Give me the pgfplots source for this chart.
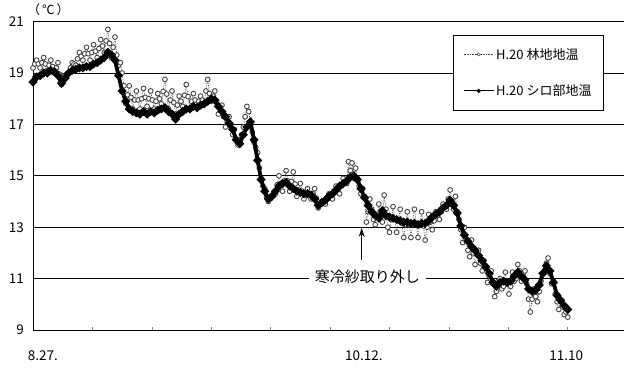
\documentclass[border=0pt]{standalone}
\usepackage{fontspec}
\setmainfont{Noto Sans CJK JP}
\usepackage{pgfplots}
\pgfplotsset{compat=1.18}
\usetikzlibrary{arrows.meta}
\definecolor{fgray}{RGB}{70,70,70}
\begin{document}
\begin{tikzpicture}
\begin{axis}[
  at={(33bp,39bp)}, anchor=south west,
  scale only axis, width=591bp, height=308.4bp,
  xmin=0, xmax=82.89, ymin=9, ymax=21, clip mode=individual,
  axis lines=left, axis line style={-, line width=0.9bp},
  xtick={0,8.3333,16.6667,25,33.3333,41.6667,50,58.3333,66.6667,75},
  xticklabels={}, xtick align=inside, major tick length=3bp,
  xtick style={line width=0.6bp},
  ytick={9,11,13,15,17,19,21}, ytick style={draw=none},
  ymajorgrids, grid style={black, line width=0.9bp},
  /pgf/number format/assume math mode=true,
  yticklabel style={font=\fontsize{13.5bp}{15bp}\selectfont, xshift=-4bp},
  legend style={at={(0.966,0.957)}, anchor=north east, draw=black, line width=0.7bp,
    fill=white, font=\fontsize{13bp}{15bp}\selectfont, row sep=20bp,
    inner xsep=10bp, inner ysep=11bp, legend cell align=left},
  legend image code/.code={\draw[mark repeat=2,mark phase=2,#1] plot coordinates {(0bp,0bp)(15bp,0bp)(30bp,0bp)};},
]
\addlegendimage{fgray, densely dotted, line width=0.6bp, mark=*, mark size=1.6bp, mark options={solid, fill=white, draw=fgray, line width=0.5bp}}
\addlegendentry{H.20 林地地温}
\addlegendimage{black, line width=0.9bp, mark=*, mark size=1.6bp}
\addlegendentry{H.20 シロ部地温}

\addplot[fgray, densely dotted, line width=0.7bp, mark=*, mark size=2.4bp,
  mark options={solid, fill=white, draw=fgray, line width=0.9bp}, forget plot] coordinates {
(0,19.2)(0.25,19.35)(0.5,19.5)(0.75,19.35)
(1,19.2)(1.25,19.4)(1.5,19.6)(1.75,19.35)
(2,19.1)(2.25,19.3)(2.5,19.5)(2.75,19.25)
(3,19.0)(3.25,19.2)(3.5,19.4)(3.75,18.95)
(4,18.55)(4.25,18.73)(4.5,18.9)(4.75,18.95)
(5,19.0)(5.25,19.2)(5.5,19.4)(5.75,19.35)
(6,19.3)(6.25,19.55)(6.5,19.8)(6.75,19.65)
(7,19.5)(7.25,19.75)(7.5,20.0)(7.75,19.75)
(8,19.5)(8.25,19.8)(8.5,20.1)(8.75,19.85)
(9,19.6)(9.25,19.95)(9.5,20.3)(9.75,20.05)
(10,19.8)(10.25,20.25)(10.5,20.7)(10.75,20.15)
(11,19.6)(11.25,20.0)(11.5,20.4)(11.75,19.7)
(12,19.3)(12.25,19.4)(12.5,19.0)(12.75,18.5)
(13,17.8)(13.25,18.15)(13.5,18.5)(13.75,18.05)
(14,17.6)(14.25,17.95)(14.5,18.3)(14.75,17.95)
(15,17.6)(15.25,18.0)(15.5,18.4)(15.75,18.05)
(16,17.7)(16.25,18.0)(16.5,18.3)(16.75,17.95)
(17,17.6)(17.25,17.9)(17.5,18.2)(17.75,18.0)
(18,17.8)(18.25,18.28)(18.5,18.75)(18.75,18.18)
(19,17.6)(19.25,17.95)(19.5,18.3)(19.75,17.85)
(20,17.4)(20.25,17.75)(20.5,18.1)(20.75,17.9)
(21,17.7)(21.25,18.13)(21.5,18.55)(21.75,18.08)
(22,17.6)(22.25,17.9)(22.5,18.2)(22.75,17.95)
(23,17.7)(23.25,17.9)(23.5,18.1)(23.75,17.95)
(24,17.8)(24.25,18.3)(24.5,18.75)(24.75,18.2)
(25,17.9)(25.25,18.1)(25.5,18.3)(25.75,17.9)
(26,17.4)(26.25,17.6)(26.5,17.75)(26.75,17.3)
(27,16.9)(27.25,17.2)(27.5,17.3)(27.75,16.9)
(28,16.6)(28.25,16.8)(28.5,16.4)(28.75,16.2)
(29,16.4)(29.25,16.6)(29.5,16.9)(29.75,17.3)
(30,17.7)(30.25,17.5)(30.5,17.1)(30.75,16.7)
(31,16.3)(31.25,16.1)(31.5,15.9)(31.75,15.3)
(32,14.9)(32.25,14.6)(32.5,14.5)(32.75,14.2)
(33,14.0)(33.25,14.1)(33.5,14.2)(33.75,14.25)
(34,14.3)(34.25,14.65)(34.5,15.0)(34.75,14.7)
(35,14.4)(35.25,14.8)(35.5,15.2)(35.75,14.8)
(36,14.4)(36.25,14.78)(36.5,15.15)(36.75,14.68)
(37,14.2)(37.25,14.45)(37.5,14.7)(37.75,14.4)
(38,14.1)(38.25,14.3)(38.5,14.5)(38.75,14.3)
(39,14.1)(39.25,14.3)(39.5,14.5)(39.75,14.13)
(40,13.75)(40.25,13.88)(40.5,14.0)(40.75,13.95)
(41,13.9)(41.25,14.1)(41.5,14.3)(41.75,14.2)
(42,14.1)(42.25,14.35)(42.5,14.6)(42.75,14.45)
(43,14.3)(43.25,14.6)(43.5,14.9)(43.75,14.75)
(44,14.7)(44.25,15.55)(44.5,15.2)(44.75,15.5)
(45,14.9)(45.25,15.3)(45.5,14.9)(45.75,14.6)
(46,14.3)(46.25,14.5)(46.5,14.2)(46.75,13.2)
(47,13.6)(47.25,14.1)(47.5,13.7)(47.75,13.3)
(48,13.1)(48.25,13.5)(48.5,13.9)(48.75,13.55)
(49,13.2)(49.25,14.25)(49.5,13.7)(49.75,13.0)
(50,12.8)(50.25,13.3)(50.5,13.8)(50.75,13.3)
(51,12.8)(51.25,13.25)(51.5,13.7)(51.75,13.15)
(52,12.6)(52.25,13.1)(52.5,13.6)(52.75,13.1)
(53,12.6)(53.25,13.15)(53.5,13.7)(53.75,13.15)
(54,12.6)(54.25,13.1)(54.5,13.6)(54.75,13.05)
(55,12.5)(55.25,13.0)(55.5,13.5)(55.75,13.2)
(56,12.9)(56.25,13.25)(56.5,13.6)(56.75,13.45)
(57,13.3)(57.25,13.6)(57.5,13.9)(57.75,13.8)
(58,13.7)(58.25,14.1)(58.5,14.45)(58.75,14.0)
(59,13.7)(59.25,14.2)(59.5,13.6)(59.75,13.3)
(60,12.9)(60.25,12.4)(60.5,13.0)(60.75,12.5)
(61,12.1)(61.25,11.85)(61.5,12.5)(61.75,12.0)
(62,11.55)(62.25,12.0)(62.5,12.1)(62.75,11.6)
(63,11.3)(63.25,11.7)(63.5,11.5)(63.75,10.85)
(64,11.1)(64.25,11.3)(64.5,10.8)(64.75,10.3)
(65,10.5)(65.25,10.9)(65.5,11.0)(65.75,10.6)
(66,10.7)(66.25,11.25)(66.5,10.8)(66.75,10.4)
(67,10.7)(67.25,11.25)(67.5,10.9)(67.75,11.0)
(68,11.55)(68.25,11.3)(68.5,10.9)(68.75,11.2)
(69,11.3)(69.25,10.8)(69.5,10.2)(69.75,9.7)
(70,10.2)(70.25,10.6)(70.5,10.3)(70.75,10.1)
(71,10.5)(71.25,10.9)(71.5,11.2)(71.75,11.3)
(72,11.6)(72.25,11.8)(72.5,11.2)(72.75,10.8)
(73,10.9)(73.25,10.4)(73.5,10.1)(73.75,9.8)
(74,10.1)(74.25,9.9)(74.5,9.6)(74.75,9.7)
(75,9.5)
};

\addplot[black, line width=3.8bp, mark=*, mark size=1.9bp, forget plot] coordinates {
(0,18.65)(0.5,18.85)(1,18.9)(1.5,19.0)(2,19.0)(2.5,19.1)(3,19.05)(3.5,18.9)
(4,18.6)(4.5,18.8)(5,19.0)(5.5,19.1)(6,19.15)(6.5,19.2)(7,19.2)(7.5,19.25)
(8,19.25)(8.5,19.35)(9,19.4)(9.5,19.5)(10,19.6)(10.5,19.8)(11,19.7)(11.5,19.5)
(12,18.9)(12.5,18.3)(13,17.9)(13.5,17.6)(14,17.5)(14.5,17.45)(15,17.4)(15.5,17.5)
(16,17.4)(16.5,17.5)(17,17.45)(17.5,17.55)(18,17.6)(18.5,17.65)(19,17.5)(19.5,17.4)
(20,17.2)(20.5,17.4)(21,17.5)(21.5,17.6)(22,17.6)(22.5,17.7)(23,17.65)(23.5,17.75)
(24,17.8)(24.5,17.9)(25,18.0)(25.5,17.95)(26,17.7)(26.5,17.5)(27,17.3)(27.5,17.05)
(28,16.8)(28.5,16.4)(29,16.25)(29.5,16.6)(30,16.9)(30.5,17.1)(31,16.4)(31.5,15.6)
(32,14.85)(32.5,14.4)(33,14.1)(33.5,14.2)(34,14.4)(34.5,14.6)(35,14.7)(35.5,14.75)
(36,14.6)(36.5,14.5)(37,14.4)(37.5,14.35)(38,14.3)(38.5,14.3)(39,14.25)(39.5,14.1)
(40,13.85)(40.5,13.95)(41,14.05)(41.5,14.2)(42,14.3)(42.5,14.45)(43,14.6)(43.5,14.7)
(44,14.8)(44.5,14.95)(45,15.0)(45.5,14.85)(46,14.5)(46.5,14.15)(47,13.85)(47.5,13.6)
(48,13.45)(48.5,13.35)(49,13.65)(49.5,13.45)(50,13.4)(50.5,13.35)(51,13.3)(51.5,13.25)
(52,13.2)(52.5,13.2)(53,13.15)(53.5,13.15)(54,13.1)(54.5,13.15)(55,13.15)(55.5,13.25)
(56,13.4)(56.5,13.5)(57,13.6)(57.5,13.75)(58,13.85)(58.5,14.05)(59,13.85)(59.5,13.55)
(60,13.05)(60.5,12.7)(61,12.45)(61.5,12.25)(62,12.1)(62.5,11.9)(63,11.7)(63.5,11.45)
(64,11.2)(64.5,10.85)(65,10.7)(65.5,10.85)(66,10.9)(66.5,10.85)(67,10.9)(67.5,11.1)
(68,11.25)(68.5,11.1)(69,10.95)(69.5,10.6)(70,10.5)(70.5,10.55)(71,10.75)(71.5,11.2)
(72,11.5)(72.5,11.3)(73,10.85)(73.5,10.35)(74,10.15)(74.5,9.95)(75,9.8)
};

\draw[-{Stealth[length=9bp,width=6bp]}, line width=0.8bp] (axis cs:46.1,11.72) -- (axis cs:46.1,12.97);
\node[fill=white, inner xsep=6bp, inner ysep=2bp, font=\fontsize{15bp}{17bp}\selectfont] at (axis cs:46.9,11.05) {寒冷紗取り外し};
\node[font=\fontsize{13.5bp}{15bp}\selectfont] at (axis cs:1.4,9) [yshift=-26bp] {8.27.};
\node[font=\fontsize{13.5bp}{15bp}\selectfont] at (axis cs:46.4,9) [yshift=-26bp] {10.12.};
\node[font=\fontsize{13.5bp}{15bp}\selectfont] at (axis cs:74.8,9) [yshift=-26bp] {11.10};
\end{axis}
\node[font=\fontsize{12.5bp}{14bp}\selectfont, anchor=west] at (24bp,359bp) {（\,℃\,）};
\pgfresetboundingbox
\useasboundingbox (0,0) rectangle (624bp,369bp);
\end{tikzpicture}
\end{document}
